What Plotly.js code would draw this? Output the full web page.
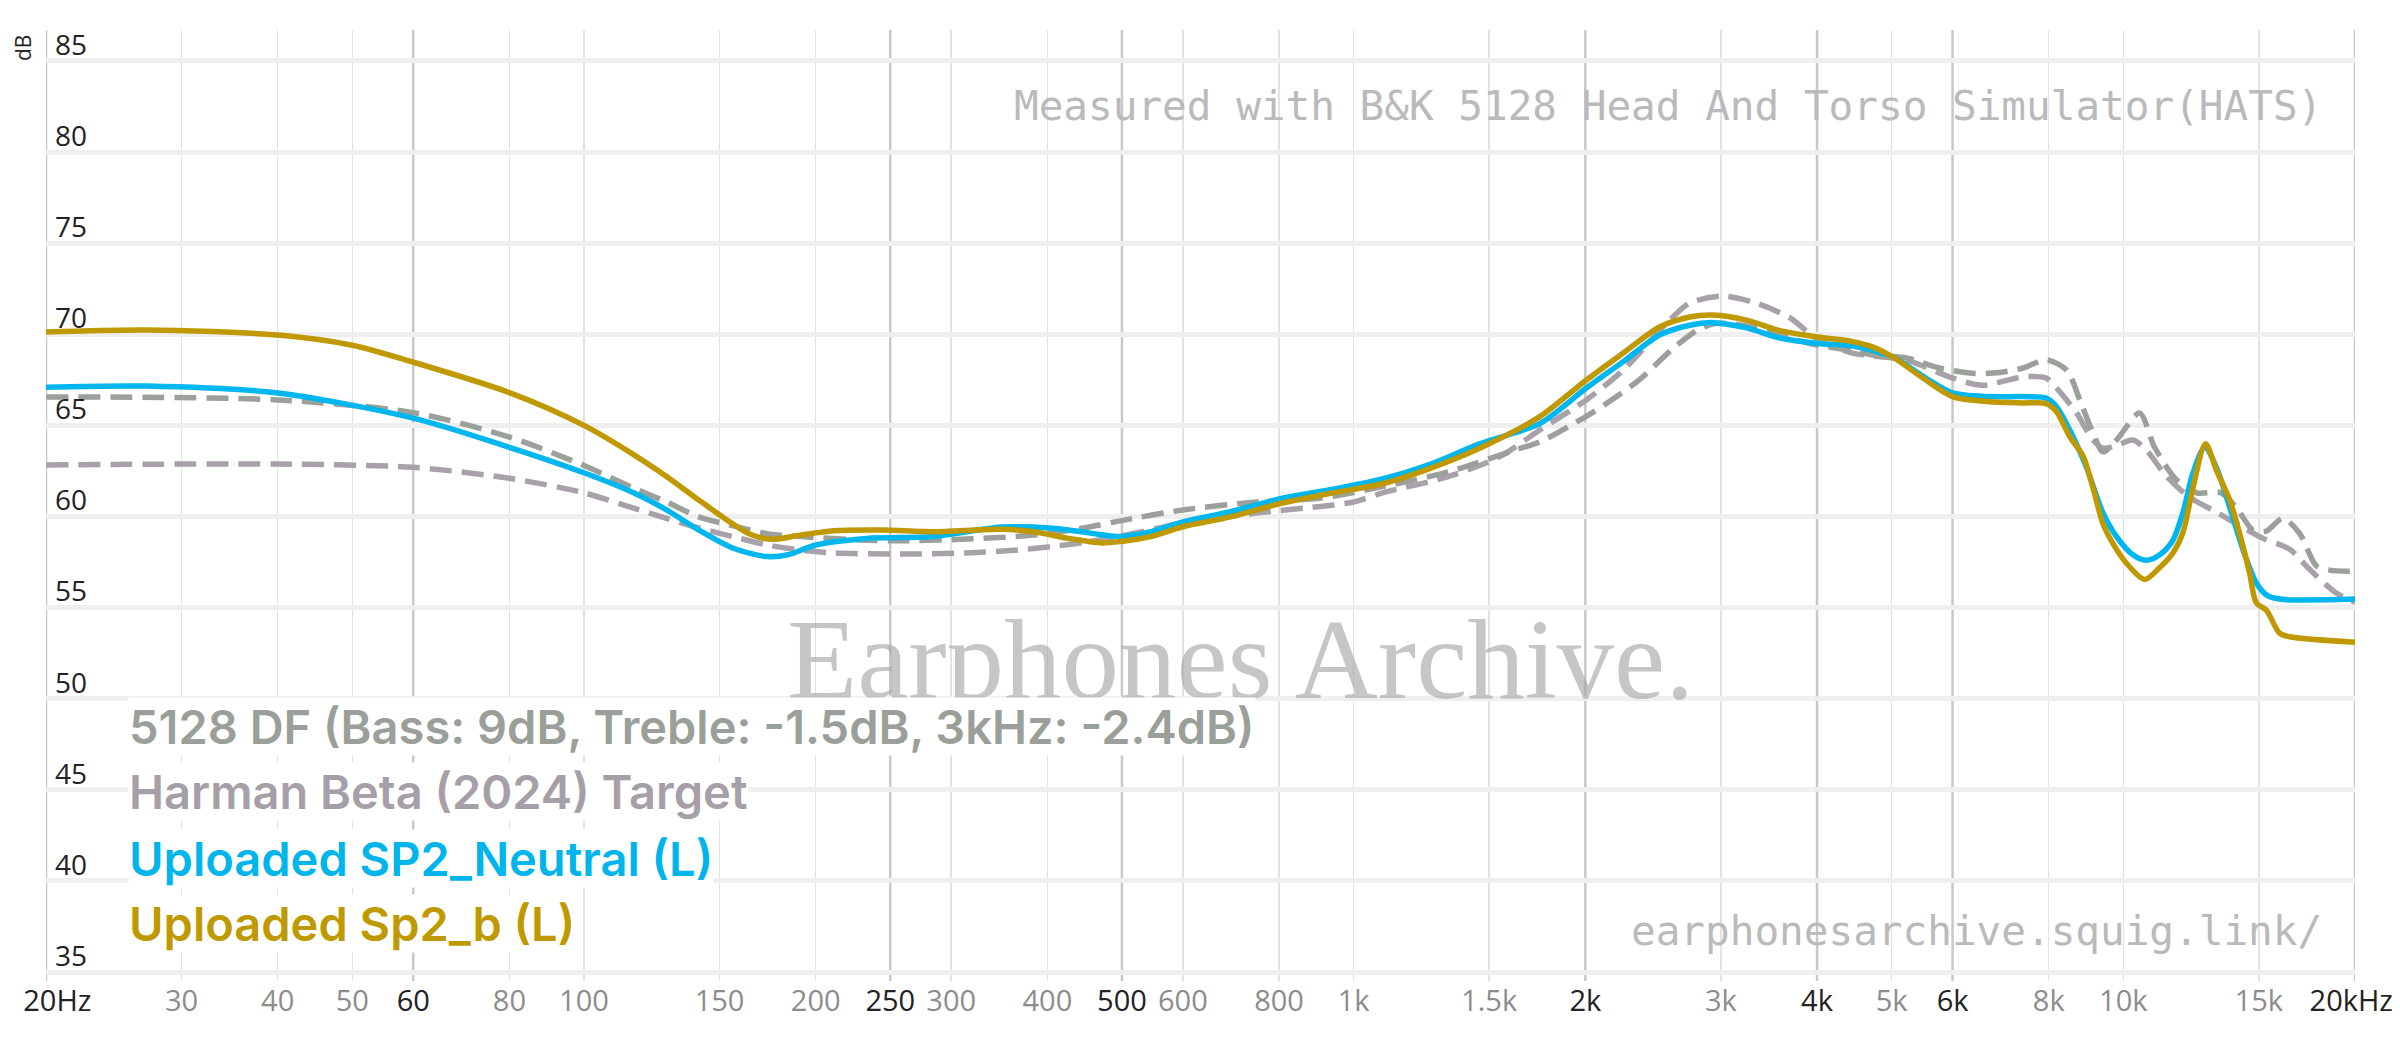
<!DOCTYPE html>
<html><head><meta charset="utf-8">
<script src="https://cdn.plot.ly/plotly-3.0.1.min.js"></script>
<style>html,body{margin:0;padding:0;background:#fff;} #chart{width:2400px;height:1038px;}</style>
</head><body><div id="chart"></div>
<script>
// ---- data ----
const seriesNames = [
  "5128 DF (Bass: 9dB, Treble: -1.5dB, 3kHz: -2.4dB)",
  "Harman Beta (2024) Target",
  "Uploaded SP2_Neutral (L)",
  "Uploaded Sp2_b (L)"
];

const freqDF = [20,40,60,80,100,116,128,141,156,173,191,233,257,314,384,450,495,600,750,900,1090,1330,1620,1745,2006,2130,2350,2580,2790,2960,3300,3600,4010,4450,4730,5230,5770,6400,6900,7410,7940,8440,8780,9130,9410,9800,10500,10980,11730,12450,13400,14020,14740,15340,16120,16950,17810,18540,20000];
const dbDF = [66.56,66.4,65.7,64.36,62.8,61.56,60.8,59.98,59.5,59.05,58.9,58.7,58.67,58.76,58.98,59.4,59.75,60.36,60.8,61.0,61.64,62.46,63.65,64.1,65.5,66.2,67.5,69.1,70.2,70.6,70.4,69.9,69.4,69.1,68.86,68.7,68.15,67.85,67.9,68.15,68.6,68.04,66.4,64.6,63.55,64.2,65.68,63.8,62.0,61.3,61.3,60.5,59.25,59.2,59.9,59.07,57.3,57.06,57.0];

const freqHarman = [20,40,60,80,100,116,128,141,156,173,191,211,257,314,366,405,450,495,600,750,900,1000,1090,1330,1550,1745,2006,2240,2550,2730,3020,3340,3690,4010,4450,5010,5230,6000,6560,7410,7940,8190,8690,9130,9410,9800,10290,10710,11380,12200,13210,14300,15190,16450,17460,18910,20000];
const dbHarman = [62.83,62.88,62.7,62.1,61.3,60.46,59.9,59.37,58.9,58.44,58.16,58.0,57.94,58.0,58.16,58.35,58.6,58.9,59.64,60.2,60.54,60.8,61.3,62.2,63.3,64.75,66.4,68.04,70.6,71.7,72.1,71.7,70.9,69.7,68.97,68.7,68.6,67.6,67.2,67.67,67.6,67.05,65.7,64.2,63.75,63.9,64.2,63.65,62.2,61.05,60.24,59.4,58.8,58.2,57.1,55.8,55.3];

const freqNeutral = [20,27,40,60,80,100,116,128,141,156,173,184,200,233,284,348,384,426,471,495,545,600,692,808,940,1090,1260,1460,1745,2006,2240,2497,2733,2930,3240,3580,4010,4450,5010,5490,6000,6700,7410,7940,8190,8520,8950,9410,9800,10290,10710,11150,11600,11950,12320,12760,13210,13750,14300,14890,15340,15960,20000];
const dbNeutral = [67.1,67.16,66.78,65.4,63.8,62.4,61.3,60.36,59.26,58.27,57.8,57.9,58.44,58.8,58.9,59.42,59.42,59.26,59.0,58.9,59.17,59.7,60.26,61.0,61.5,62.06,62.88,64.0,65.1,67.05,68.5,69.96,70.5,70.64,70.35,69.8,69.5,69.36,68.77,67.7,66.78,66.58,66.58,66.5,66.03,64.75,62.73,60.2,58.9,57.9,57.6,57.9,58.7,60.2,62.4,63.8,62.7,60.5,58.2,56.35,55.7,55.47,55.47];

const freqSp2b = [20,27,40,50,60,80,100,116,128,141,156,165,176,191,211,245,284,348,384,426,471,495,545,600,692,808,940,1090,1260,1460,1745,2006,2240,2497,2733,2930,3240,3580,4010,4450,4730,5010,5490,6000,6700,7410,7940,8190,8520,8870,9130,9410,9700,10090,10660,11150,11600,11950,12320,12790,13210,13750,14160,14590,14890,15340,15960,16450,20000];
const dbSp2b = [70.13,70.24,69.96,69.4,68.47,66.8,65.0,63.4,62.2,60.9,59.6,59.0,58.75,58.98,59.22,59.26,59.17,59.3,59.17,58.8,58.55,58.62,58.9,59.44,59.98,60.74,61.3,61.8,62.66,63.76,65.48,67.49,68.97,70.4,70.95,71.06,70.78,70.2,69.85,69.6,69.3,68.77,67.6,66.58,66.3,66.23,66.2,65.75,64.38,63.3,61.6,59.6,58.5,57.45,56.55,57.2,58.0,59.1,61.6,64.0,62.55,60.9,59.08,56.9,55.25,54.86,53.6,53.4,53.1];

const xTickVals   = [20,30,40,50,60,80,100,150,200,250,300,400,500,600,800,1000,1500,2000,3000,4000,5000,6000,8000,10000,15000,20000];
const xTickLabels = ["20Hz","30","40","50","60","80","100","150","200","250","300","400","500","600","800","1k","1.5k","2k","3k","4k","5k","6k","8k","10k","15k","20kHz"];
const xMajorTicks = [20,60,250,500,2000,4000,6000,20000];
const yTickVals   = [35,40,45,50,55,60,65,70,75,80,85];

const seriesColors = ["#9ba09a","#a8a1a9","#00b6ee","#c09900"];
const legendColors = ["#9a9f99","#a69fa8","#00b4ec","#bf9900"];

// ---- layout helpers (pixel geometry of the plot area) ----
const W = 2400, H = 1038, ML = 46, MR = 45, MT = 30, MB = 57;
const PW = W - ML - MR, PH = H - MT - MB;
const px = x => (x - ML) / PW;
const py = y => (H - MB - y) / PH;

const xTickText = xTickLabels.map((t, i) => {
  const v = xTickVals[i];
  if (xMajorTicks.indexOf(v) >= 0) {
    if (v === 20) return "&nbsp;&nbsp;&nbsp;" + t;
    if (v === 20000) return t + "&nbsp;";
    return t;
  }
  return '<span style="color:#8c8c8c">' + t + '</span>';
});
const xMinorVals = xTickVals.filter(v => xMajorTicks.indexOf(v) < 0);

const traces = [
  {x: freqHarman, y: dbHarman, name: seriesNames[1], mode: 'lines',
   line: {color: seriesColors[1], width: 5.5, dash: '22px,10px', shape: 'spline', smoothing: 0.8}},
  {x: freqDF, y: dbDF, name: seriesNames[0], mode: 'lines',
   line: {color: seriesColors[0], width: 5.5, dash: '22px,10px', shape: 'spline', smoothing: 0.8}},
  {x: freqNeutral, y: dbNeutral, name: seriesNames[2], mode: 'lines',
   line: {color: seriesColors[2], width: 5.5, shape: 'spline', smoothing: 0.8}},
  {x: freqSp2b, y: dbSp2b, name: seriesNames[3], mode: 'lines',
   line: {color: seriesColors[3], width: 5.5, shape: 'spline', smoothing: 0.8}}
];

const shapes = xMajorTicks.map(f => ({
  type: 'line', xref: 'x', yref: 'paper', x0: f, x1: f, y0: 0, y1: 1,
  line: {color: '#c8c8c8', width: 2.5}, layer: 'below'
}));

const legendBaselines = [742, 807, 874, 939];
const annotations = [
  {text: 'Earphones Archive.', xref: 'paper', yref: 'paper', x: px(785), y: py(659),
   xanchor: 'left', yanchor: 'middle', showarrow: false,
   font: {family: 'Liberation Serif', size: 115, color: 'rgba(160,160,160,0.6)'}},
  {text: 'Measured with B&K 5128 Head And Torso Simulator(HATS)', xref: 'paper', yref: 'paper',
   x: px(2324), y: py(106), xanchor: 'right', yanchor: 'middle', showarrow: false,
   font: {family: 'DejaVu Sans Mono', size: 41, color: '#bababa'}},
  {text: 'earphonesarchive.squig.link/', xref: 'paper', yref: 'paper',
   x: px(2324), y: py(931), xanchor: 'right', yanchor: 'middle', showarrow: false,
   font: {family: 'DejaVu Sans Mono', size: 41, color: '#bababa'}},
  {text: 'dB', xref: 'paper', yref: 'paper', x: px(23), y: py(48), textangle: -90,
   xanchor: 'center', yanchor: 'middle', showarrow: false,
   font: {family: 'Open Sans', size: 21, color: '#222'}}
];
seriesNames.forEach((n, i) => {
  annotations.push({text: n, xref: 'paper', yref: 'paper', x: px(128), y: py(legendBaselines[i] - 16),
    xanchor: 'left', yanchor: 'middle', showarrow: false, bgcolor: '#ffffff', borderpad: 0,
    font: {family: 'Inter', size: 47, weight: 600, color: legendColors[i]}});
});

const layout = {
  width: W, height: H,
  margin: {l: ML, r: MR, t: MT, b: MB, pad: 0},
  paper_bgcolor: '#ffffff', plot_bgcolor: '#ffffff',
  showlegend: false,
  xaxis: {
    type: 'log', range: [Math.log10(20), Math.log10(20000)],
    tickmode: 'array', tickvals: xTickVals, ticktext: xTickText, ticklabeloverflow: 'allow',
    tickfont: {family: 'Open Sans', size: 29, color: '#222'},
    showgrid: false, zeroline: false, showline: false, ticks: '',
    minor: {tickmode: 'array', tickvals: xMinorVals, showgrid: true, gridcolor: '#e2e2e2', gridwidth: 1.5, ticks: ''}
  },
  yaxis: {
    range: [34.51, 86.7], tickmode: 'array', tickvals: yTickVals,
    ticklabelposition: 'inside', ticklabelstandoff: 6, ticklabelshift: -16, ticklabeloverflow: 'allow',
    tickfont: {family: 'Open Sans', size: 28, color: '#222'},
    showgrid: true, gridcolor: '#efefef', gridwidth: 5, zeroline: false, showline: false, ticks: ''
  },
  shapes: shapes,
  annotations: annotations
};

Plotly.newPlot('chart', traces, layout, {staticPlot: true, displayModeBar: false});
</script>
</body></html>
